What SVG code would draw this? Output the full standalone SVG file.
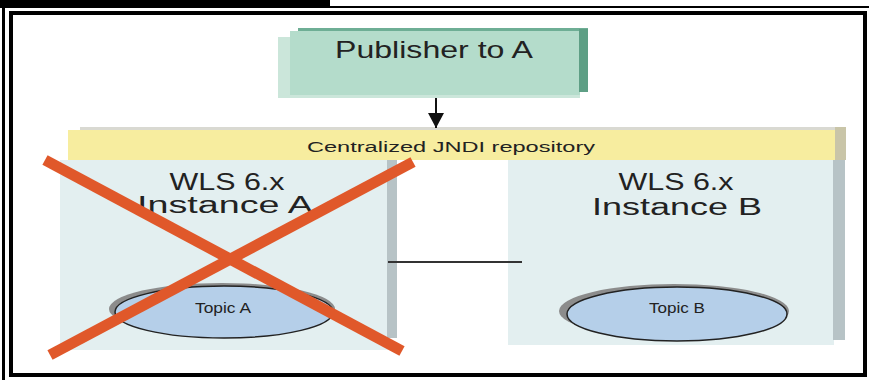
<svg xmlns="http://www.w3.org/2000/svg" width="869" height="380" viewBox="0 0 869 380">
<style>
.t{font-family:"Liberation Sans","DejaVu Sans",Arial,sans-serif;fill:#222}
.big{font-size:23px}
.box{fill:#e3eff0}
.strip{fill:#b7c3c6}
.ell{fill:#b5cfe9;stroke:#222;stroke-width:1.5}
.sh{fill:#8c8c8c}
.x{stroke:#e0582a;stroke-width:11;stroke-linecap:butt}
</style>
<defs>
<marker id="ah" markerWidth="18" markerHeight="16" refX="15" refY="8" orient="auto" markerUnits="userSpaceOnUse">
<path d="M0,0 L15,8 L0,16 z" fill="#111"/>
</marker>
</defs>
<rect width="869" height="380" fill="#fff"/>
<g id="frame">
<rect x="0" y="0" width="330" height="6" fill="#000"/>
<rect x="0" y="6" width="869" height="2" fill="#000"/>
<rect x="2" y="0" width="3" height="380" fill="#000"/>
<rect x="11" y="13" width="854" height="362" fill="none" stroke="#000" stroke-width="4"/>
</g>
<g id="publisher">
<rect x="278" y="37" width="302" height="61" fill="#cbe6da"/>
<rect x="290" y="31" width="290" height="64" fill="#b4dccb"/>
<rect x="298" y="28" width="290" height="3" fill="#6eae95"/>
<rect x="579" y="29" width="9" height="63" fill="#5e9f85"/>
<text class="t" x="434" y="58" font-size="24" text-anchor="middle" textLength="198" lengthAdjust="spacingAndGlyphs">Publisher to A</text>
</g>
<g id="jndi">
<rect x="80" y="127" width="766" height="3" fill="#d9d9d2"/>
<rect x="835" y="127" width="11" height="33" fill="#c9c5a8"/>
<rect x="68" y="130" width="767" height="30" fill="#f7ed9f"/>
<text class="t" x="451" y="152" font-size="14" text-anchor="middle" textLength="288" lengthAdjust="spacingAndGlyphs">Centralized JNDI repository</text>
</g>
<g id="instanceA">
<rect class="box" x="60" y="160" width="328" height="190"/>
<rect class="strip" x="387" y="160" width="10" height="178"/>
<text class="t big" x="227" y="190" text-anchor="middle" textLength="115" lengthAdjust="spacingAndGlyphs">WLS 6.x</text>
<text class="t big" x="225" y="213" text-anchor="middle" textLength="176" lengthAdjust="spacingAndGlyphs">Instance A</text>
</g>
<g id="topicA">
<ellipse class="sh" cx="222" cy="309" rx="113" ry="26"/>
<ellipse class="ell" cx="224" cy="312" rx="109" ry="26"/>
<text class="t" x="223" y="313" font-size="15" text-anchor="middle" textLength="56" lengthAdjust="spacingAndGlyphs">Topic A</text>
</g>
<g id="instanceB">
<rect class="box" x="508" y="160" width="326" height="185"/>
<rect class="strip" x="833" y="160" width="12" height="180"/>
<text class="t big" x="676" y="190" text-anchor="middle" textLength="115" lengthAdjust="spacingAndGlyphs">WLS 6.x</text>
<text class="t big" x="677" y="215" text-anchor="middle" textLength="170" lengthAdjust="spacingAndGlyphs">Instance B</text>
</g>
<g id="topicB">
<ellipse class="sh" cx="674" cy="311" rx="115" ry="27"/>
<ellipse class="ell" cx="677" cy="314" rx="110" ry="27"/>
<text class="t" x="677" y="313" font-size="15" text-anchor="middle" textLength="56" lengthAdjust="spacingAndGlyphs">Topic B</text>
</g>
<g id="connectors">
<line x1="436" y1="98" x2="436" y2="128" stroke="#111" stroke-width="2" marker-end="url(#ah)"/>
<line x1="388" y1="262" x2="522" y2="262" stroke="#333" stroke-width="2"/>
</g>
<g id="cross">
<line class="x" x1="45" y1="160" x2="402" y2="351"/>
<line class="x" x1="413" y1="162" x2="50" y2="355"/>
</g>
</svg>
